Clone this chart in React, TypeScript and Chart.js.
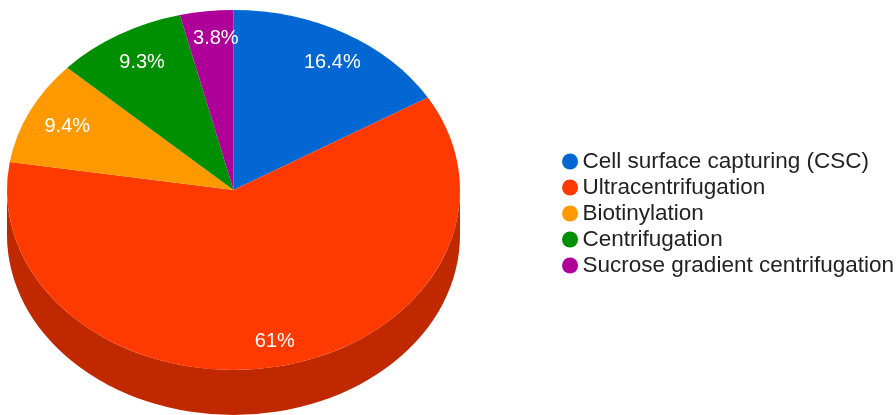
import { useEffect, useRef } from "react";
import { Chart, registerables } from "chart.js";

Chart.register(...registerables);

const categories = [
  "Cell surface capturing (CSC)",
  "Ultracentrifugation",
  "Biotinylation",
  "Centrifugation",
  "Sucrose gradient centrifugation",
];
const shares = [16.4, 61, 9.4, 9.3, 3.8];
const topColors = ["#0367d3", "#ff3a00", "#ff9900", "#008f00", "#ae0098"];
const sideColors = ["#024d9e", "#c02800", "#bf7300", "#006b00", "#820072"];

// Tilted-disc geometry, in canvas pixels.
const DISC = { cx: 233.5, cy: 190, rx: 226.5, ry: 180, depth: 45, labelAt: 0.84, labelDx: 5, labelDy: 2.5 };
// Small per-slice vertical corrections for the percentage labels.
const labelNudgeY = [2, 0.5, 0, 0, -4];
const LEGEND_FONT_SIZE = 22.5;
const LEGEND_DOT_RADIUS = 8;
const LEGEND_BOX_WIDTH = 2.5;
const FONT = "Arial, 'Liberation Sans', sans-serif";

const tiltedPie = {
  id: "tiltedPie",
  beforeDatasetsDraw(chart: any) {
    const { ctx } = chart;
    const arcs = chart.getDatasetMeta(0).data;
    const { x, y, outerRadius } = arcs[0];
    const sx = DISC.rx / outerRadius;
    const sy = DISC.ry / outerRadius;
    ctx.save();
    ctx.translate(DISC.cx, DISC.cy);
    ctx.scale(sx, sy);
    ctx.translate(-x, -y);
    // The rim: only the front half of the disc shows its thickness.
    const drop = DISC.depth / sy;
    arcs.forEach((arc: any, i: number) => {
      for (const turn of [0, 2 * Math.PI]) {
        const from = Math.max(arc.startAngle - turn, 0);
        const to = Math.min(arc.endAngle - turn, Math.PI);
        if (to <= from) continue;
        ctx.beginPath();
        ctx.arc(x, y, outerRadius, from, to);
        ctx.arc(x, y + drop, outerRadius, to, from, true);
        ctx.closePath();
        ctx.fillStyle = sideColors[i];
        ctx.fill();
      }
    });
  },
  afterDatasetsDraw(chart: any) {
    const { ctx } = chart;
    ctx.restore();
    const arcs = chart.getDatasetMeta(0).data;
    ctx.save();
    ctx.font = `20px ${FONT}`;
    ctx.fillStyle = "#ffffff";
    ctx.textAlign = "center";
    ctx.textBaseline = "middle";
    arcs.forEach((arc: any, i: number) => {
      const mid = (arc.startAngle + arc.endAngle) / 2;
      const lx = DISC.cx + DISC.labelDx + Math.cos(mid) * DISC.rx * DISC.labelAt;
      const ly = DISC.cy + DISC.labelDy + labelNudgeY[i] + Math.sin(mid) * DISC.ry * DISC.labelAt;
      ctx.fillText(`${shares[i]}%`, lx, ly);
    });
    ctx.restore();
  },
  // The legend clips to its own box, so its round markers are painted here,
  // where they may overhang the box's left edge.
  afterDraw(chart: any) {
    const { ctx, legend } = chart;
    ctx.save();
    legend.legendHitBoxes.forEach((box: any, i: number) => {
      ctx.fillStyle = topColors[i];
      ctx.beginPath();
      ctx.arc(box.left + LEGEND_BOX_WIDTH / 2, box.top + LEGEND_FONT_SIZE / 2, LEGEND_DOT_RADIUS, 0, 2 * Math.PI);
      ctx.fill();
    });
    ctx.restore();
  },
};

export default function App() {
  const canvasRef = useRef<HTMLCanvasElement>(null);

  useEffect(() => {
    const chart = new Chart(canvasRef.current!, {
      type: "pie",
      data: {
        labels: categories,
        datasets: [
          {
            data: shares,
            backgroundColor: topColors,
            borderWidth: 0,
            clip: false,
          } as any,
        ],
      },
      options: {
        responsive: false,
        animation: false,
        layout: { padding: { top: 12, right: -8 } },
        plugins: {
          title: { display: false },
          tooltip: { enabled: false },
          legend: {
            position: "right",
            labels: {
              usePointStyle: true,
              pointStyle: "circle",
              boxHeight: 0,
              boxWidth: LEGEND_BOX_WIDTH,
              padding: 3.5,
              color: "#222222",
              font: { family: FONT, size: LEGEND_FONT_SIZE },
            },
          },
        },
      },
      plugins: [tiltedPie],
    });
    return () => chart.destroy();
  }, []);

  return (
    <div style={{ position: "fixed", left: 0, top: 0, width: 896, height: 415, background: "#fff" }}>
      <canvas ref={canvasRef} width={896} height={415} style={{ display: "block" }} />
    </div>
  );
}
